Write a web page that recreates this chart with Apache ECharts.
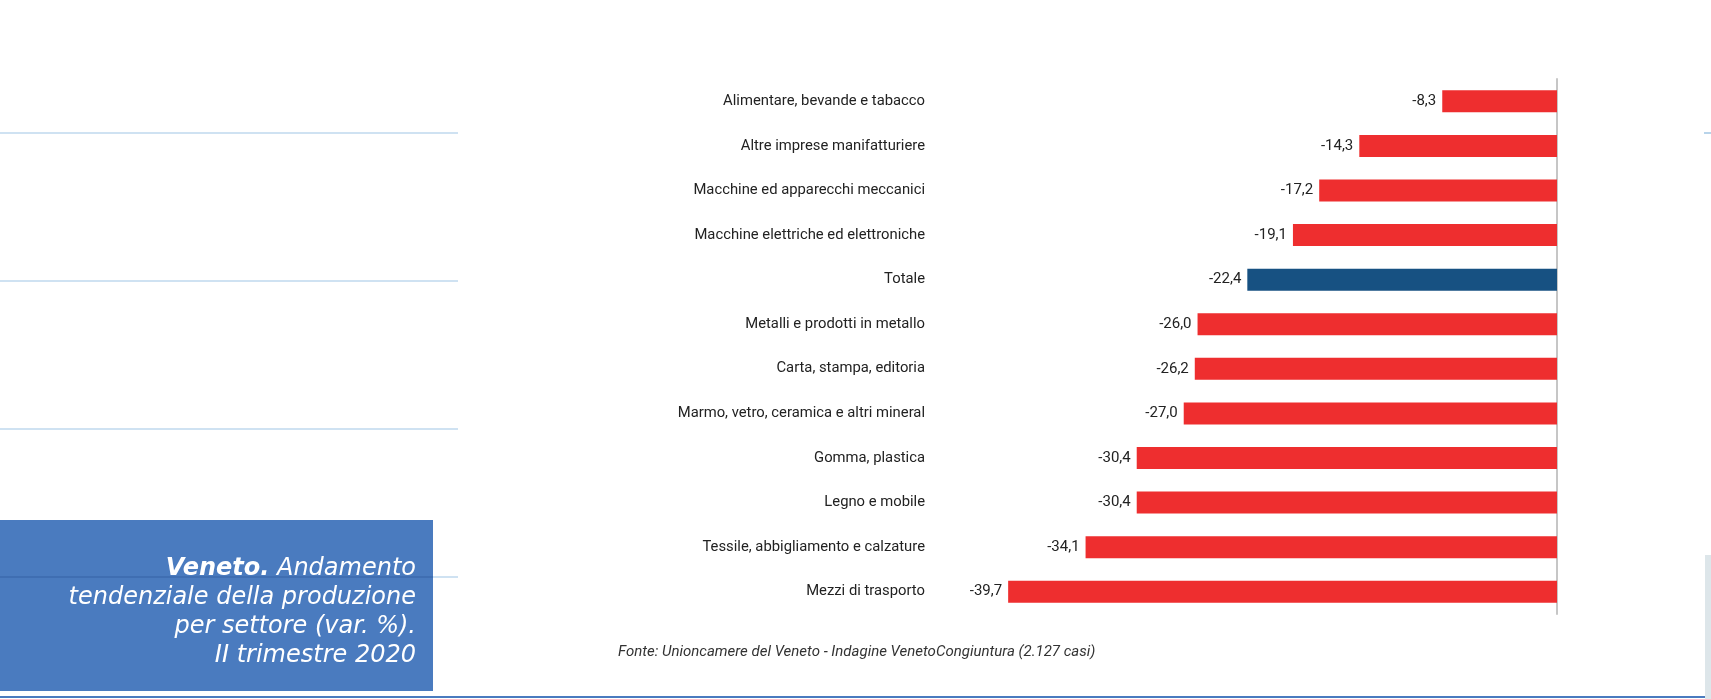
<!DOCTYPE html>
<html>
<head>
<meta charset="utf-8">
<script src="https://cdn.jsdelivr.net/npm/echarts@6/dist/echarts.min.js"></script>
<style>
html,body{margin:0;padding:0;background:#fff;}
#chart{width:1711px;height:699px;}
</style>
</head>
<body>
<div id="chart"></div>
<script>
const categories = [
  'Alimentare, bevande e tabacco',
  'Altre imprese manifatturiere',
  'Macchine ed apparecchi meccanici',
  'Macchine elettriche ed elettroniche',
  'Totale',
  'Metalli e prodotti in metallo',
  'Carta, stampa, editoria',
  'Marmo, vetro, ceramica e altri mineral',
  'Gomma, plastica',
  'Legno e mobile',
  'Tessile, abbigliamento e calzature',
  'Mezzi di trasporto'
];
const values = [-8.3, -14.3, -17.2, -19.1, -22.4, -26.0, -26.2, -27.0, -30.4, -30.4, -34.1, -39.7];
const highlightCategory = 'Totale';
const titleLines = ['{b|Veneto.} Andamento', 'tendenziale della produzione', 'per settore (var. %).', 'II trimestre 2020'];
const sourceText = 'Fonte: Unioncamere del Veneto - Indagine VenetoCongiuntura (2.127 casi)';

const RED = '#ee2e2f';
const BLUE = '#175182';

const chart = echarts.init(document.getElementById('chart'), null, {renderer: 'canvas'});

const seriesData = values.map((v, i) => ({
  value: v,
  itemStyle: {color: categories[i] === highlightCategory ? BLUE : RED}
}));

const option = {
  backgroundColor: '#ffffff',
  animation: false,
  grid: {left: 1004, width: 553, top: 79, height: 535},
  xAxis: {type: 'value', min: -40, max: 0, show: false},
  yAxis: [
    {
      type: 'category', data: categories, inverse: true, position: 'left',
      axisLine: {show: false}, axisTick: {show: false},
      axisLabel: {margin: 79, color: '#222', fontSize: 14.8, fontFamily: 'Roboto'}
    },
    {
      type: 'category', data: categories, inverse: true, position: 'right',
      axisLine: {show: true, lineStyle: {color: '#c6c6c6', width: 2}},
      axisTick: {show: false}, axisLabel: {show: false}
    }
  ],
  series: [{
    type: 'bar',
    yAxisIndex: 0,
    data: seriesData,
    barWidth: 22,
    label: {
      show: true, position: 'left', distance: 6,
      color: '#222', fontSize: 15, fontFamily: 'Roboto',
      formatter: p => p.value.toFixed(1).replace('.', ',')
    }
  }],
  graphic: [
    {type: 'line', shape: {x1: 0, y1: 133, x2: 458, y2: 133}, style: {stroke: '#cfe2f2', lineWidth: 2}, silent: true},
    {type: 'line', shape: {x1: 0, y1: 281, x2: 458, y2: 281}, style: {stroke: '#cfe2f2', lineWidth: 2}, silent: true},
    {type: 'line', shape: {x1: 0, y1: 429, x2: 458, y2: 429}, style: {stroke: '#cfe2f2', lineWidth: 2}, silent: true},
    {type: 'line', shape: {x1: 0, y1: 577, x2: 458, y2: 577}, style: {stroke: '#cfe2f2', lineWidth: 2}, silent: true},
    {type: 'rect', shape: {x: 0, y: 520, width: 433, height: 171}, style: {fill: '#4a7bbf'}, silent: true},
    {type: 'line', shape: {x1: 0, y1: 577, x2: 433, y2: 577}, style: {stroke: 'rgba(30,70,140,0.25)', lineWidth: 2}, silent: true},
    {
      type: 'text', x: 416, y: 554, silent: true,
      style: {
        text: titleLines.join('\n'),
        align: 'right', verticalAlign: 'top',
        fill: '#ffffff', fontSize: 24, fontStyle: 'italic', fontFamily: 'DejaVu Sans',
        fontWeight: 300,
        lineHeight: 29,
        rich: {b: {fontWeight: 'bold', fontStyle: 'italic', fontSize: 24, fontFamily: 'DejaVu Sans', fill: '#ffffff', lineHeight: 29}}
      }
    },
    {
      type: 'text', x: 618, y: 652, silent: true,
      style: {text: sourceText, fill: '#333', fontSize: 15, fontStyle: 'italic', fontFamily: 'Roboto', verticalAlign: 'middle'}
    },
    {type: 'line', shape: {x1: 0, y1: 697, x2: 1705, y2: 697}, style: {stroke: '#4a7bbf', lineWidth: 2}, silent: true},
    {type: 'rect', shape: {x: 1705, y: 555, width: 6, height: 144}, style: {fill: '#dde6ea'}, silent: true},
    {type: 'line', shape: {x1: 1704, y1: 133, x2: 1711, y2: 133}, style: {stroke: '#b8d4ea', lineWidth: 2}, silent: true}
  ]
};
chart.setOption(option);
</script>
</body>
</html>
